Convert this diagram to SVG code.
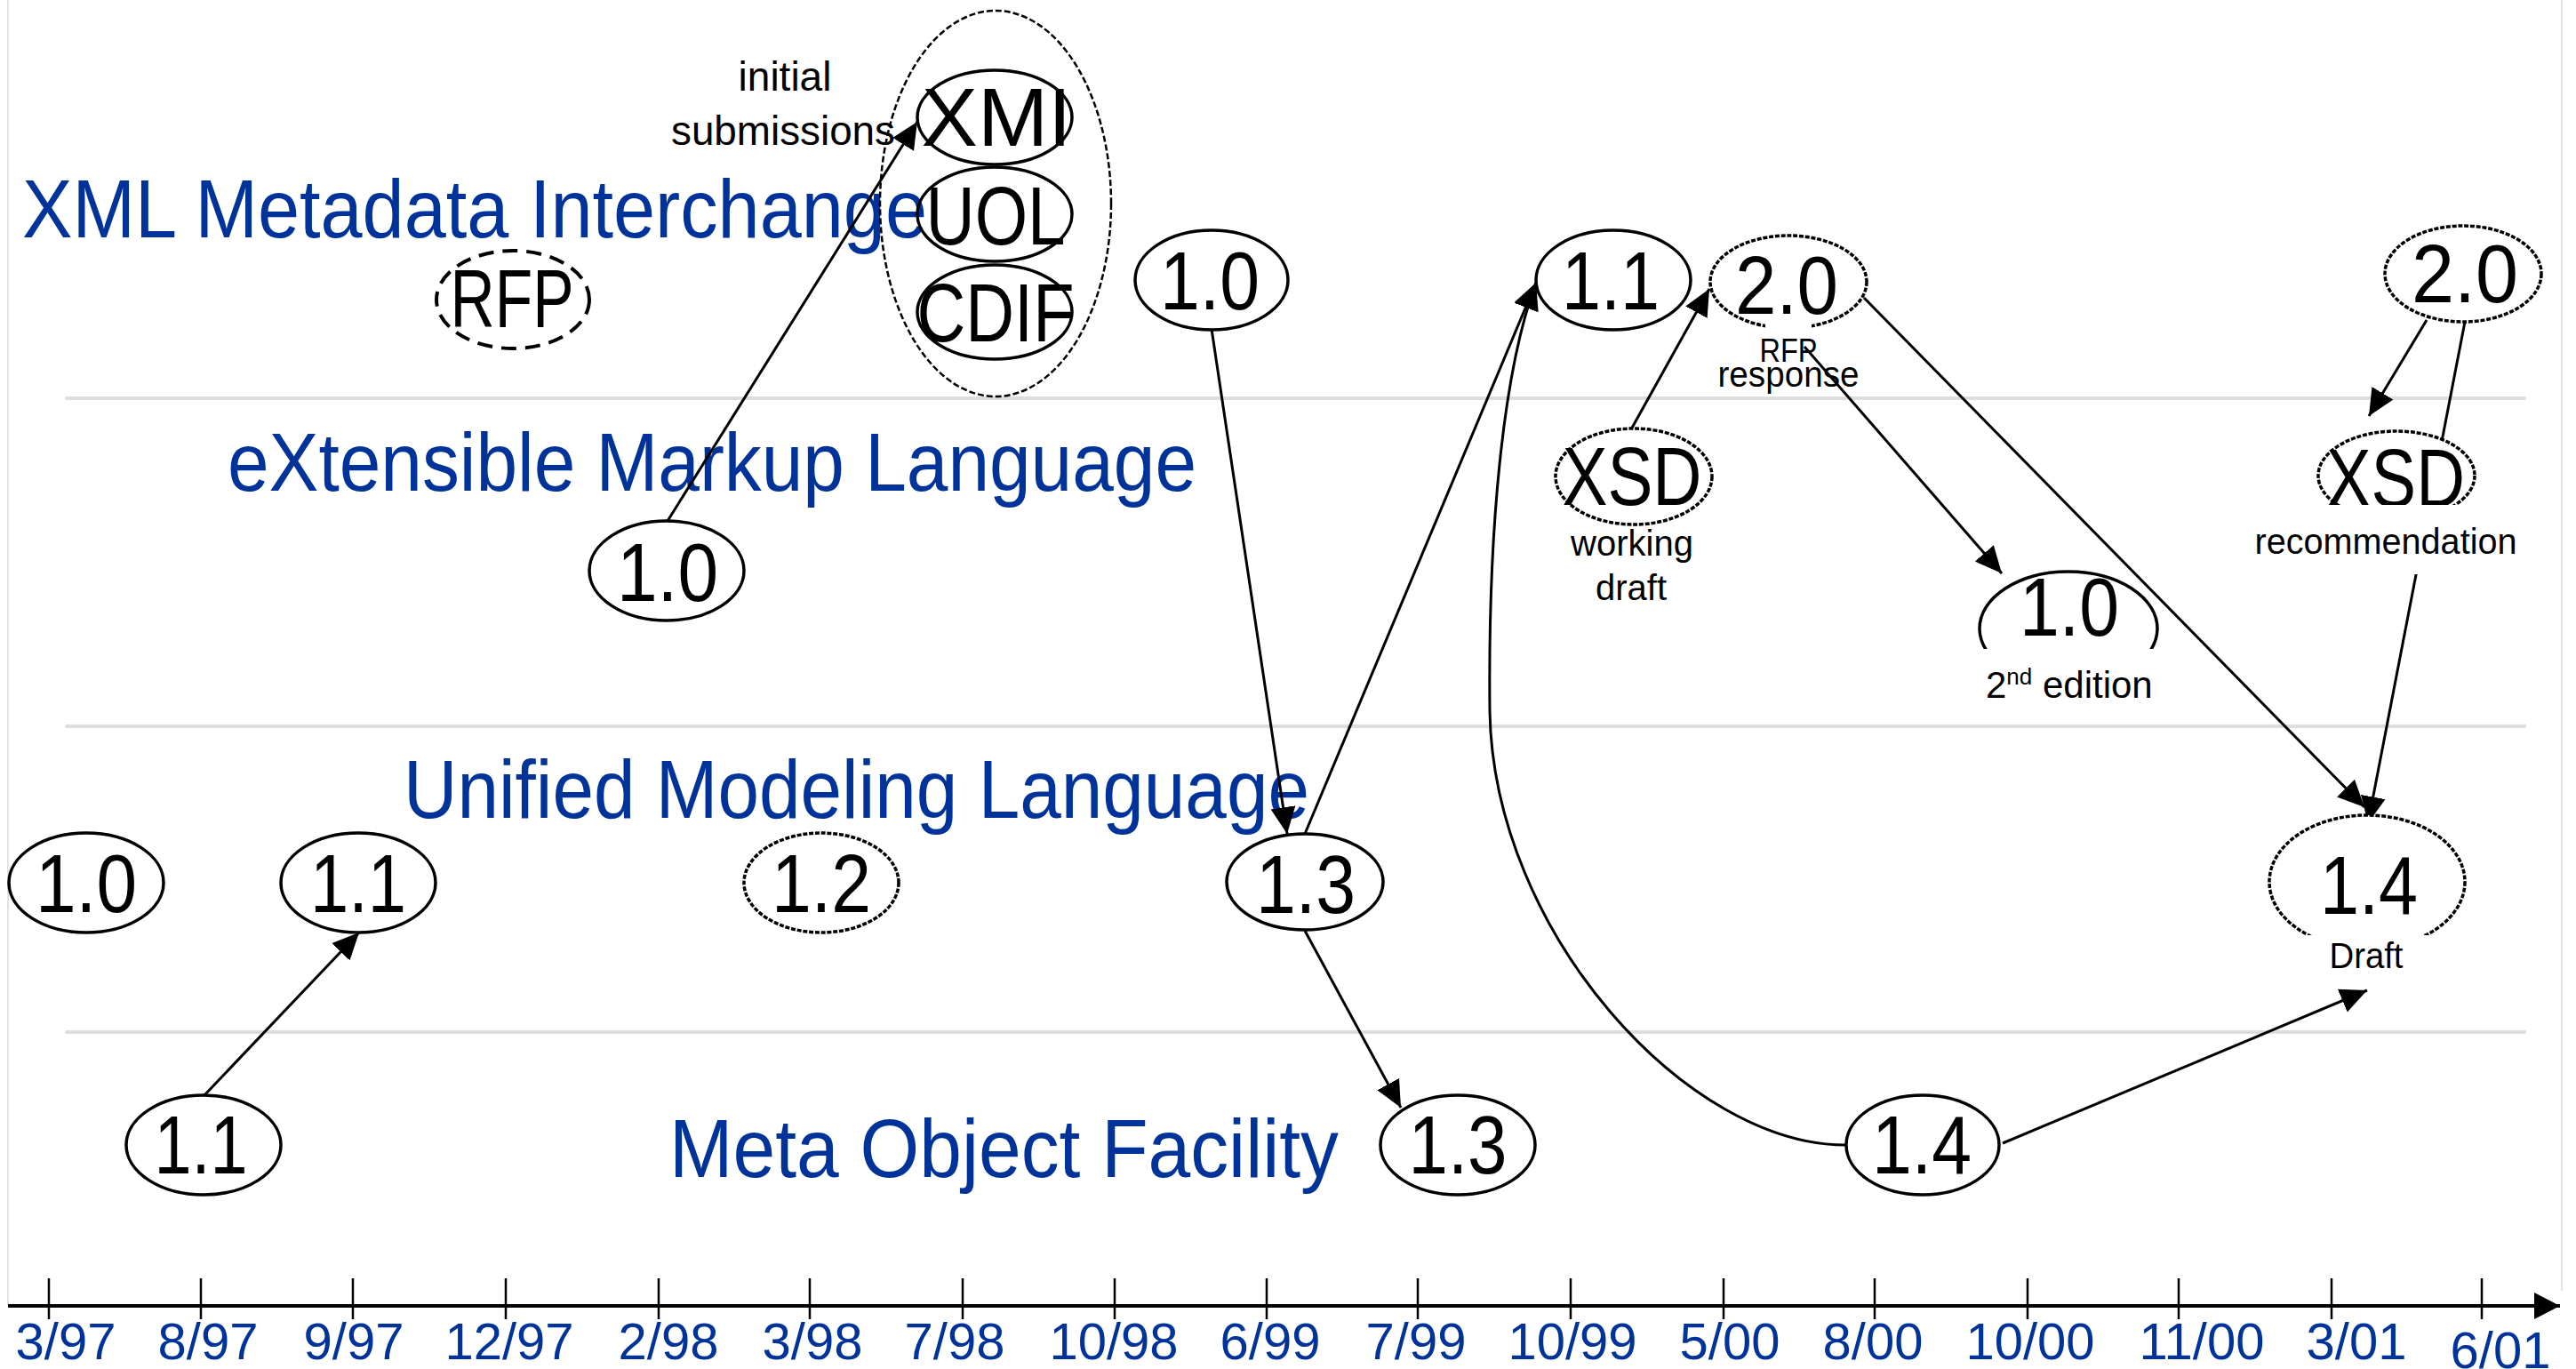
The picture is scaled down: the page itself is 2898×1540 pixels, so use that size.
<svg xmlns="http://www.w3.org/2000/svg" width="2898" height="1540" viewBox="0 0 2898 1540">
  <style>
    .title { font-family: "Liberation Sans", Arial, sans-serif; font-size: 93px; fill: #003399; }
    .date { font-family: "Liberation Sans", Arial, sans-serif; font-size: 58px; fill: #003399; text-anchor: middle; }
    .ver { font-family: "Liberation Sans", Arial, sans-serif; font-size: 93px; fill: #000; text-anchor: middle; }
    .note { font-family: "Liberation Sans", Arial, sans-serif; font-size: 40px; fill: #000; text-anchor: middle; }
    .solid { fill: #fff; stroke: #000; stroke-width: 3.5; }
    .open { fill: none; stroke: #000; stroke-width: 3.5; }
    .dotted { fill: #fff; stroke: #000; stroke-width: 3.5; stroke-dasharray: 5 1.8; }
    .rfp { fill: none; stroke: #000; stroke-width: 4; stroke-dasharray: 17 10; }
    .group { fill: none; stroke: #000; stroke-width: 2.5; stroke-dasharray: 7 3; }
    .sep { stroke: #dddddd; stroke-width: 4; stroke-linecap: round; }
    .frame { stroke: #e2e2e2; stroke-width: 2; }
    .link { fill: none; stroke: #000; stroke-width: 3; marker-end: url(#arrow); }
    .tick { stroke: #000; stroke-width: 2.5; }
    .mask { fill: #fff; stroke: none; }
  </style>
  <defs>
    <marker id="arrow" markerUnits="userSpaceOnUse" markerWidth="32" markerHeight="30" refX="30" refY="14" orient="auto">
      <path d="M0,0 L30,14 L0,28 z" fill="#000"/>
    </marker>
    <marker id="axisHead" markerUnits="userSpaceOnUse" markerWidth="32" markerHeight="32" refX="29" refY="15" orient="auto">
      <path d="M0,0 L29,15 L0,30 z" fill="#000"/>
    </marker>
  </defs>

  <rect width="2898" height="1540" fill="#fff"/>

  <!-- frame and swimlane separators -->
  <g id="lanes">
    <line class="frame" x1="9" y1="0" x2="9" y2="1469"/>
    <line class="frame" x1="2882" y1="0" x2="2882" y2="1452"/>
    <line class="sep" x1="75" y1="448" x2="2840" y2="448"/>
    <line class="sep" x1="75" y1="817" x2="2840" y2="817"/>
    <line class="sep" x1="75" y1="1161" x2="2840" y2="1161"/>
  </g>

  <!-- lane titles -->
  <g id="titles">
    <text class="title" x="25" y="267" textLength="1018" lengthAdjust="spacingAndGlyphs">XML Metadata Interchange</text>
    <text class="title" x="256" y="552" textLength="1090" lengthAdjust="spacingAndGlyphs">eXtensible Markup Language</text>
    <text class="title" x="454" y="920" textLength="1019" lengthAdjust="spacingAndGlyphs">Unified Modeling Language</text>
    <text class="title" x="753" y="1324" textLength="753" lengthAdjust="spacingAndGlyphs">Meta Object Facility</text>
  </g>

  <!-- time axis -->
  <g id="axis">
    <line x1="9" y1="1469" x2="2880" y2="1469" stroke="#000" stroke-width="4" marker-end="url(#axisHead)"/>
    <line class="tick" x1="55" y1="1438" x2="55" y2="1484"/>
    <line class="tick" x1="226" y1="1438" x2="226" y2="1484"/>
    <line class="tick" x1="397" y1="1438" x2="397" y2="1484"/>
    <line class="tick" x1="569" y1="1438" x2="569" y2="1484"/>
    <line class="tick" x1="741" y1="1438" x2="741" y2="1484"/>
    <line class="tick" x1="911" y1="1438" x2="911" y2="1484"/>
    <line class="tick" x1="1083" y1="1438" x2="1083" y2="1484"/>
    <line class="tick" x1="1254" y1="1438" x2="1254" y2="1484"/>
    <line class="tick" x1="1425" y1="1438" x2="1425" y2="1484"/>
    <line class="tick" x1="1595" y1="1438" x2="1595" y2="1484"/>
    <line class="tick" x1="1767" y1="1438" x2="1767" y2="1484"/>
    <line class="tick" x1="1939" y1="1438" x2="1939" y2="1484"/>
    <line class="tick" x1="2109" y1="1438" x2="2109" y2="1484"/>
    <line class="tick" x1="2281" y1="1438" x2="2281" y2="1484"/>
    <line class="tick" x1="2451" y1="1438" x2="2451" y2="1484"/>
    <line class="tick" x1="2623" y1="1438" x2="2623" y2="1484"/>
    <line class="tick" x1="2792" y1="1438" x2="2792" y2="1484"/>
    <text class="date" x="74" y="1529">3/97</text>
    <text class="date" x="234" y="1529">8/97</text>
    <text class="date" x="398" y="1529">9/97</text>
    <text class="date" x="573" y="1529">12/97</text>
    <text class="date" x="752" y="1529">2/98</text>
    <text class="date" x="914" y="1529">3/98</text>
    <text class="date" x="1074" y="1529">7/98</text>
    <text class="date" x="1253" y="1529">10/98</text>
    <text class="date" x="1429" y="1529">6/99</text>
    <text class="date" x="1593" y="1529">7/99</text>
    <text class="date" x="1769" y="1529">10/99</text>
    <text class="date" x="1946" y="1529">5/00</text>
    <text class="date" x="2107" y="1529">8/00</text>
    <text class="date" x="2284" y="1529">10/00</text>
    <text class="date" x="2477" y="1529">11/00</text>
    <text class="date" x="2651" y="1529">3/01</text>
    <text class="date" x="2813" y="1539">6/01</text>
  </g>

  <!-- connectors -->
  <g id="connectors">
    <line class="link" x1="230" y1="1232" x2="404" y2="1049"/>
    <line class="link" x1="751" y1="586" x2="1032" y2="137"/>
    <line class="link" x1="1363" y1="370" x2="1448" y2="938"/>
    <line class="link" x1="1468" y1="938" x2="1728" y2="318"/>
    <line class="link" x1="1468" y1="1047" x2="1576" y2="1246"/>
    <path class="link" d="M2078,1288 C1900,1290 1680,1050 1676,800 C1674,600 1690,420 1728,318"/>
    <line class="link" x1="2253" y1="1286" x2="2663" y2="1114"/>
    <line class="link" x1="1835" y1="483" x2="1923" y2="325"/>
    <line class="link" x1="2030" y1="390" x2="2252" y2="645"/>
    <line class="link" x1="2097" y1="335" x2="2660" y2="908"/>
    <line class="link" x1="2730" y1="360" x2="2665" y2="468"/>
    <line class="link" x1="2773" y1="362" x2="2664" y2="926"/>
  </g>

  <!-- XMI -->
  <g id="xmi-rfp">
    <ellipse class="rfp" cx="577" cy="337" rx="86" ry="55"/>
    <text class="ver" x="576" y="368" textLength="139" lengthAdjust="spacingAndGlyphs">RFP</text>
  </g>
  <g id="xmi-submissions">
    <ellipse class="group" cx="1120" cy="229" rx="130" ry="217"/>
    <text class="note" x="883" y="102" style="font-size:46px">initial</text>
    <text class="note" x="881" y="163" style="font-size:46px" textLength="252" lengthAdjust="spacingAndGlyphs">submissions</text>
  </g>
  <g id="xmi-xmi">
    <ellipse class="open" cx="1119" cy="132" rx="87" ry="53"/>
    <text class="ver" x="1121" y="164" textLength="169" lengthAdjust="spacingAndGlyphs">XMI</text>
  </g>
  <g id="xmi-uol">
    <ellipse class="open" cx="1119" cy="241" rx="87" ry="53"/>
    <text class="ver" x="1120" y="275" textLength="157" lengthAdjust="spacingAndGlyphs">UOL</text>
  </g>
  <g id="xmi-cdif">
    <ellipse class="open" cx="1119" cy="351" rx="87" ry="53"/>
    <text class="ver" x="1120" y="384" textLength="177" lengthAdjust="spacingAndGlyphs">CDIF</text>
  </g>
  <g id="xmi-1-0">
    <ellipse class="solid" cx="1363" cy="315" rx="86" ry="56"/>
    <text class="ver" x="1361" y="348" textLength="112" lengthAdjust="spacingAndGlyphs">1.0</text>
  </g>
  <g id="xmi-1-1">
    <ellipse class="solid" cx="1815" cy="315" rx="87" ry="56"/>
    <text class="ver" x="1812" y="348" textLength="110" lengthAdjust="spacingAndGlyphs">1.1</text>
  </g>
  <g id="xmi-2-0-rfp">
    <ellipse class="dotted" cx="2012" cy="317" rx="88" ry="52"/>
    <text class="ver" x="2010" y="353" textLength="116" lengthAdjust="spacingAndGlyphs">2.0</text>
    <rect class="mask" x="1986" y="360" width="52" height="14"/>
    <text class="note" x="2012" y="407" style="font-size:36px" textLength="65" lengthAdjust="spacingAndGlyphs">RFP</text>
    <text class="note" x="2012" y="435" textLength="159" lengthAdjust="spacingAndGlyphs">response</text>
  </g>
  <g id="xmi-2-0">
    <ellipse class="dotted" cx="2771" cy="308" rx="88" ry="54"/>
    <text class="ver" x="2773" y="340" textLength="120" lengthAdjust="spacingAndGlyphs">2.0</text>
  </g>

  <!-- XML -->
  <g id="xml-1-0">
    <ellipse class="solid" cx="750" cy="642" rx="87" ry="56"/>
    <text class="ver" x="751" y="676" textLength="114" lengthAdjust="spacingAndGlyphs">1.0</text>
  </g>
  <g id="xsd-working-draft">
    <ellipse class="dotted" cx="1838" cy="536" rx="88" ry="54"/>
    <text class="ver" x="1836" y="568" textLength="157" lengthAdjust="spacingAndGlyphs">XSD</text>
    <text class="note" x="1836" y="625">working</text>
    <text class="note" x="1835" y="675">draft</text>
  </g>
  <g id="xsd-recommendation">
    <ellipse class="dotted" cx="2696" cy="535" rx="88" ry="50"/>
    <text class="ver" x="2695" y="570" textLength="156" lengthAdjust="spacingAndGlyphs">XSD</text>
    <rect class="mask" x="2528" y="568" width="312" height="78"/>
    <text class="note" x="2684" y="623" textLength="295" lengthAdjust="spacingAndGlyphs">recommendation</text>
  </g>
  <g id="xml-1-0-2nd">
    <ellipse class="solid" cx="2327" cy="707" rx="100" ry="64"/>
    <text class="ver" x="2328" y="715" textLength="112" lengthAdjust="spacingAndGlyphs">1.0</text>
    <rect class="mask" x="2212" y="730" width="230" height="64"/>
    <text class="note" x="2234" y="785" style="font-size:42px;text-anchor:start">2<tspan dy="-15" style="font-size:26px">nd</tspan><tspan dy="15"> edition</tspan></text>
  </g>

  <!-- UML -->
  <g id="uml-1-0">
    <ellipse class="solid" cx="97" cy="993" rx="87" ry="56"/>
    <text class="ver" x="97" y="1026" textLength="114" lengthAdjust="spacingAndGlyphs">1.0</text>
  </g>
  <g id="uml-1-1">
    <ellipse class="solid" cx="403" cy="993" rx="87" ry="56"/>
    <text class="ver" x="403" y="1026" textLength="108" lengthAdjust="spacingAndGlyphs">1.1</text>
  </g>
  <g id="uml-1-2">
    <ellipse class="dotted" cx="924" cy="993" rx="87" ry="56"/>
    <text class="ver" x="924" y="1026" textLength="112" lengthAdjust="spacingAndGlyphs">1.2</text>
  </g>
  <g id="uml-1-3">
    <ellipse class="solid" cx="1468" cy="992" rx="88" ry="54"/>
    <text class="ver" x="1469" y="1027" textLength="112" lengthAdjust="spacingAndGlyphs">1.3</text>
  </g>
  <g id="uml-1-4-draft">
    <ellipse class="dotted" cx="2663" cy="992" rx="110" ry="75"/>
    <text class="ver" x="2665" y="1028" textLength="110" lengthAdjust="spacingAndGlyphs">1.4</text>
    <rect class="mask" x="2588" y="1052" width="152" height="46"/>
    <text class="note" x="2662" y="1089" textLength="83" lengthAdjust="spacingAndGlyphs">Draft</text>
  </g>

  <!-- MOF -->
  <g id="mof-1-1">
    <ellipse class="solid" cx="229" cy="1288" rx="87" ry="56"/>
    <text class="ver" x="226" y="1320" textLength="105" lengthAdjust="spacingAndGlyphs">1.1</text>
  </g>
  <g id="mof-1-3">
    <ellipse class="solid" cx="1640" cy="1288" rx="87" ry="56"/>
    <text class="ver" x="1640" y="1320" textLength="111" lengthAdjust="spacingAndGlyphs">1.3</text>
  </g>
  <g id="mof-1-4">
    <ellipse class="solid" cx="2163" cy="1288" rx="86" ry="56"/>
    <text class="ver" x="2162" y="1320" textLength="112" lengthAdjust="spacingAndGlyphs">1.4</text>
  </g>
</svg>
